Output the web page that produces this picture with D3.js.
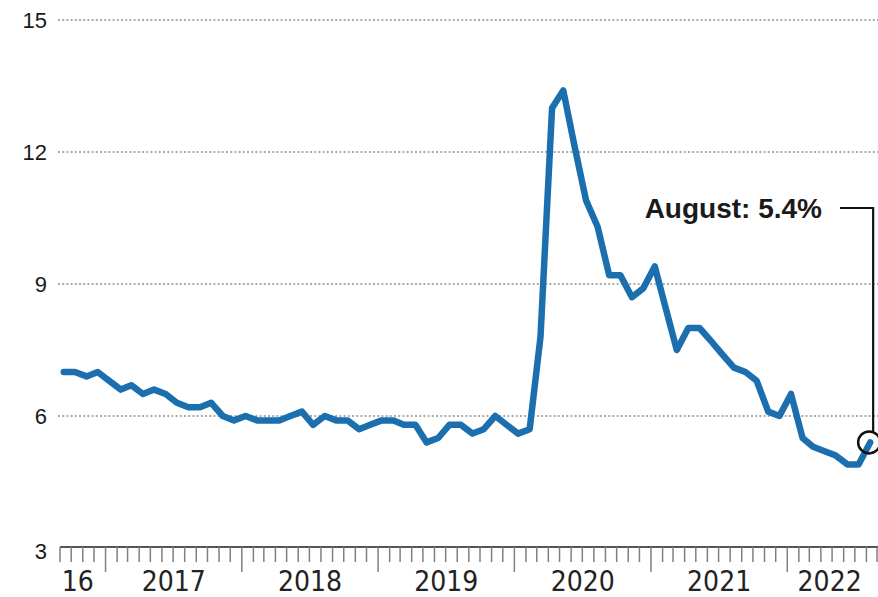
<!DOCTYPE html>
<html>
<head>
<meta charset="utf-8">
<script src="https://cdn.jsdelivr.net/npm/d3@7"></script>
<style>
  html, body { margin: 0; padding: 0; background: #fff; }
  svg { display: block; }
</style>
</head>
<body>
<svg id="chart" width="878" height="597"></svg>
<script>
// ---- data ----
const months = [
  "2016-09","2016-10","2016-11","2016-12",
  "2017-01","2017-02","2017-03","2017-04","2017-05","2017-06","2017-07","2017-08","2017-09","2017-10","2017-11","2017-12",
  "2018-01","2018-02","2018-03","2018-04","2018-05","2018-06","2018-07","2018-08","2018-09","2018-10","2018-11","2018-12",
  "2019-01","2019-02","2019-03","2019-04","2019-05","2019-06","2019-07","2019-08","2019-09","2019-10","2019-11","2019-12",
  "2020-01","2020-02","2020-03","2020-04","2020-05","2020-06","2020-07","2020-08","2020-09","2020-10","2020-11","2020-12",
  "2021-01","2021-02","2021-03","2021-04","2021-05","2021-06","2021-07","2021-08","2021-09","2021-10","2021-11","2021-12",
  "2022-01","2022-02","2022-03","2022-04","2022-05","2022-06","2022-07","2022-08"
];
const rates = [
  7.0, 7.0, 6.9, 7.0,
  6.8, 6.6, 6.7, 6.5, 6.6, 6.5, 6.3, 6.2, 6.2, 6.3, 6.0, 5.9,
  6.0, 5.9, 5.9, 5.9, 6.0, 6.1, 5.8, 6.0, 5.9, 5.9, 5.7, 5.8,
  5.9, 5.9, 5.8, 5.8, 5.4, 5.5, 5.8, 5.8, 5.6, 5.7, 6.0, 5.8,
  5.6, 5.7, 7.8, 13.0, 13.4, 12.1, 10.9, 10.3, 9.2, 9.2, 8.7, 8.9,
  9.4, 8.4, 7.5, 8.0, 8.0, 7.7, 7.4, 7.1, 7.0, 6.8, 6.1, 6.0,
  6.5, 5.5, 5.3, 5.2, 5.1, 4.9, 4.9, 5.4
];
const yTicks = [3, 6, 9, 12, 15];
const yearLabels = ["16", "2017", "2018", "2019", "2020", "2021", "2022"];
const yearStarts = ["2016-01", "2017-01", "2018-01", "2019-01", "2020-01", "2021-01", "2022-01"];
const annotationText = "August: 5.4%";

// ---- setup ----
const svg = d3.select("#chart");
const parseMonth = d3.timeParse("%Y-%m");
const domainStart = parseMonth("2016-09");
const domainEnd = parseMonth("2022-09");

const x = d3.scaleTime().domain([domainStart, domainEnd]).range([60, 878]);
const y = d3.scaleLinear().domain([3, 15]).range([548, 20]);

// points placed a third of the way into their month
const pointDate = m => d3.timeDay.offset(parseMonth(m), 10);
const data = months.map((m, i) => ({ date: pointDate(m), value: rates[i] }));

// ---- gridlines ----
svg.append("g")
  .selectAll("line")
  .data(yTicks.filter(t => t > 3))
  .join("line")
  .attr("x1", 58).attr("x2", 878)
  .attr("y1", d => y(d)).attr("y2", d => y(d))
  .attr("stroke", "#8f8f8f")
  .attr("stroke-width", 1.7)
  .attr("stroke-dasharray", "2,2.2");

// ---- y labels ----
svg.append("g")
  .selectAll("text")
  .data(yTicks)
  .join("text")
  .attr("x", 47)
  .attr("y", d => y(d) + (d === 3 ? 3 : 0))
  .attr("dy", "0.36em")
  .attr("text-anchor", "end")
  .attr("font-family", "'Liberation Sans', Arial, sans-serif")
  .attr("font-size", 22)
  .attr("fill", "#1a1a1a")
  .text(d => d);

// ---- x axis ----
const axisG = svg.append("g");
axisG.append("line")
  .attr("x1", x(domainStart)).attr("x2", 878)
  .attr("y1", 547).attr("y2", 547)
  .attr("stroke", "#555").attr("stroke-width", 2);

const tickDates = d3.timeMonth.range(domainStart, d3.timeDay.offset(domainEnd, 1));
axisG.selectAll("line.tick")
  .data(tickDates)
  .join("line")
  .attr("class", "tick")
  .attr("x1", d => Math.min(877, x(d))).attr("x2", d => Math.min(877, x(d)))
  .attr("y1", 547)
  .attr("y2", d => d.getMonth() === 0 ? 572 : 562)
  .attr("stroke", "#808080")
  .attr("stroke-width", 1.5);

axisG.selectAll("text.year")
  .data(yearLabels)
  .join("text")
  .attr("class", "year")
  .attr("x", (d, i) => {
    const s = parseMonth(yearStarts[i]);
    const e = d3.timeYear.offset(s, 1);
    const a = x(s < domainStart ? domainStart : s);
    const b = Math.min(878, x(e > domainEnd ? domainEnd : e));
    return (a + b) / 2 - (i === 0 ? 5 : 0) - (i === yearLabels.length - 1 ? 3 : 0);
  })
  .attr("y", 591)
  .attr("text-anchor", "middle")
  .attr("font-family", "'Liberation Sans Narrow', 'Arial Narrow', 'DejaVu Sans Condensed', sans-serif")
  .attr("font-size", 28)
  .attr("fill", "#222")
  .text(d => d);

// ---- line ----
const line = d3.line()
  .x(d => x(d.date))
  .y(d => y(d.value));

svg.append("path")
  .datum(data)
  .attr("d", line)
  .attr("fill", "none")
  .attr("stroke", "#1b6fae")
  .attr("stroke-width", 6.5)
  .attr("stroke-linejoin", "round")
  .attr("stroke-linecap", "round");

// ---- annotation ----
const last = data[data.length - 1];
const cx = x(last.date) - 1, cy = y(last.value);
const r = 11;
svg.append("circle")
  .attr("cx", cx).attr("cy", cy).attr("r", r)
  .attr("fill", "none")
  .attr("stroke", "#111")
  .attr("stroke-width", 2.5);

const leaderX = cx + 4;
const leaderTopY = 208;
svg.append("path")
  .attr("d", `M${840},${leaderTopY}H${leaderX}V${cy - Math.sqrt(r * r - 4 * 4)}`)
  .attr("fill", "none")
  .attr("stroke", "#111")
  .attr("stroke-width", 2.2);

svg.append("text")
  .attr("x", 822)
  .attr("y", 218)
  .attr("text-anchor", "end")
  .attr("font-family", "'Liberation Sans', Arial, sans-serif")
  .attr("font-weight", "bold")
  .attr("font-size", 28)
  .attr("fill", "#1a1a1a")
  .text(annotationText);
</script>
</body>
</html>
